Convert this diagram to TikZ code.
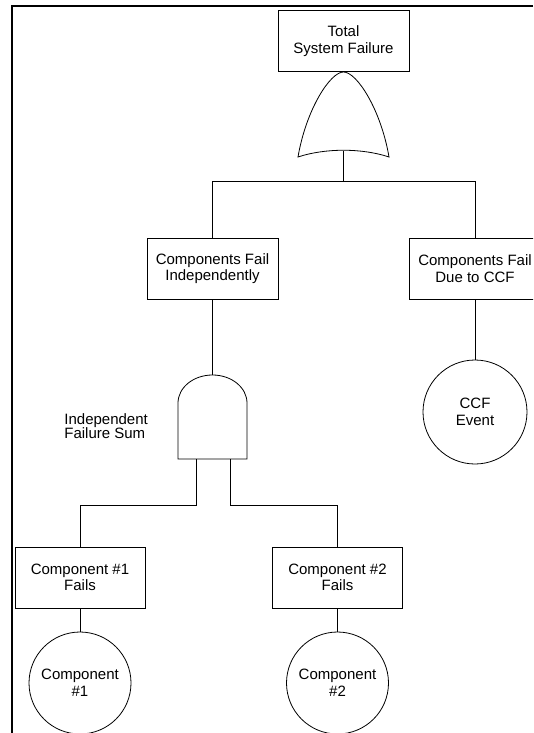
\documentclass[tikz,border=0pt]{standalone}
\usepackage{fontspec}
\setmainfont{Liberation Sans}
\begin{document}
\begin{tikzpicture}[x=1pt,y=-1pt,line width=0.8pt,
  evbox/.style={draw,minimum width=131pt,minimum height=61pt,inner sep=0pt,align=center,font=\fontsize{15}{16.5}\selectfont},
  basic/.style={draw,circle,minimum size=102pt,inner sep=0pt,align=center,font=\fontsize{15}{16.5}\selectfont},
  lbl/.style={align=left,font=\fontsize{15}{14.5}\selectfont,inner sep=0pt,anchor=north west},
  wire/.style={line width=0.8pt}]
\useasboundingbox (0,0) rectangle (533,733);
\clip (0,0) rectangle (533,733);
% frame
\draw[line width=1.6pt] (533,6) -- (12,6) -- (12,733);
% events
\node[evbox] (top) at (343.5,41) {Total\\System Failure};
\node[evbox] (indep) at (212.5,268.5) {Components Fail\\Independently};
\node[evbox] (ccf) at (475,268.5) {Components Fail\\Due to CCF};
\node[evbox,minimum width=130pt] (c1f) at (80,577.5) {Component \#1\\Fails};
\node[evbox,minimum width=130pt] (c2f) at (337.5,577.5) {Component \#2\\Fails};
\node[basic] (c1) at (80,683) {Component\\\#1};
\node[basic] (c2) at (337.5,683) {Component\\\#2};
\node[basic,minimum size=104pt] (ccfev) at (475,412) {CCF\\Event};
% OR gate
\coordinate (orTop) at (343.5,72);
\coordinate (orOut) at (343.5,151);
\draw (orTop) .. controls (330,72) and (306,110) .. (298,157)
  .. controls (325,148) and (362,148) .. (389,157)
  .. controls (381,110) and (357,72) .. (orTop);
\coordinate (bus1) at (343.5,181);
\draw[wire] (orOut) -- (bus1);
\draw[wire] (bus1) -| (indep.north);
\draw[wire] (bus1) -| (ccf.north);
% AND gate
\coordinate (andTop) at (212.5,375);
\draw (178,459) -- (178,403) arc[start angle=180,end angle=360,x radius=34.5,y radius=28] -- (247,459) -- cycle;
\node[lbl] (andlbl) at (64,413) {Independent\\Failure Sum};
\draw[wire] (indep.south) -- (andTop);
\coordinate (legA) at (196,459);
\coordinate (legB) at (230,459);
\coordinate (jA) at (196,505);
\coordinate (jB) at (230,505);
\draw[wire] (legA) -- (jA) -| (c1f.north);
\draw[wire] (legB) -- (jB) -| (c2f.north);
% basic events
\draw[wire] (c1f.south) -- (c1.north);
\draw[wire] (c2f.south) -- (c2.north);
\draw[wire] (ccf.south) -- (ccfev.north);
\end{tikzpicture}
\end{document}
